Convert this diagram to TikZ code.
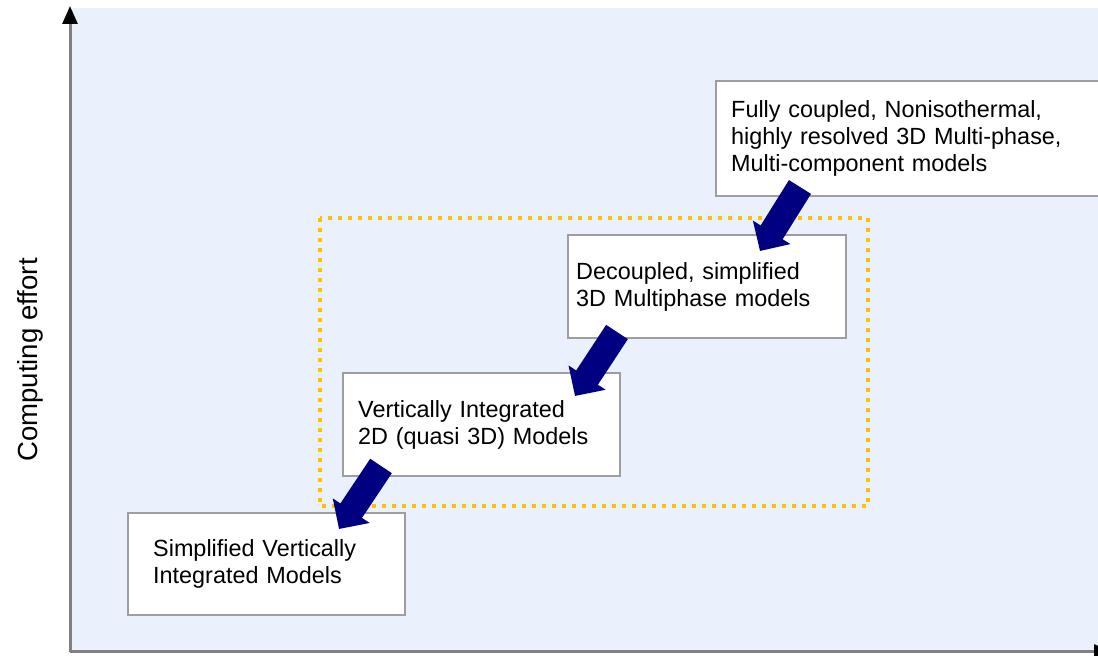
\documentclass[tikz,border=0pt]{standalone}
\usepackage{fontspec}
\setmainfont{Liberation Sans}
\usetikzlibrary{arrows.meta,positioning}
\definecolor{panelblue}{HTML}{EAF1FD}
\definecolor{boxgray}{HTML}{9E9E9E}
\definecolor{axisgray}{HTML}{808080}
\definecolor{dotorange}{HTML}{FFC000}
\definecolor{arrownavy}{HTML}{000080}

\begin{document}
\begin{tikzpicture}[
    x=0.5pt, y=-0.5pt,
    model/.style={rectangle, draw=boxgray, fill=white, line width=1.2pt, anchor=north west, align=left, inner ysep=0pt, font=\fontsize{11.7}{13.5}\selectfont},
    axis/.style={draw=axisgray, line width=1.5pt, -{Triangle[width=7.5pt,length=9pt,color=black]}},
    flow/.style={draw=arrownavy, line width=13pt, -{Triangle[width=21.5pt,length=11pt]}},
    scopebox/.style={draw=dotorange, line width=2pt, dash pattern=on 2pt off 3pt},
]
\clip (0,0) rectangle (1098,656);
\fill[white] (0,0) rectangle (1098,656);
\fill[panelblue] (72,8) rectangle (1098,652);

% axes
\coordinate (origin) at (70,652);
\coordinate (ytop) at (70,6);
\coordinate (xend) at (1112,652);
\draw[axis] (origin) -- (ytop);
\draw[axis] (origin) -- (xend);
\node[rotate=90, anchor=base, inner sep=0pt, font=\fontsize{13.8}{16}\selectfont] (ylabel) at (38,360) {Computing effort};

% dotted frame
\draw[scopebox] (320,218) rectangle (868,506);

% model boxes
\node[model, minimum width=200pt, minimum height=57.5pt, inner xsep=7.5pt, text width=185pt] (full) at (715,80)
    {Fully coupled, Nonisothermal,\\highly resolved 3D Multi-phase,\\Multi-component models};
\node[model, minimum width=139pt, minimum height=51.5pt, inner xsep=4pt, text width=131pt] (decoupled) at (567,234)
    {Decoupled, simplified\\3D Multiphase models};
\node[model, minimum width=138.5pt, minimum height=51.5pt, inner xsep=7.5pt, text width=123.5pt] (vertint) at (342,372)
    {Vertically Integrated\\2D (quasi 3D) Models};
\node[model, minimum width=138.5pt, minimum height=51pt, inner xsep=12.5pt, text width=113.5pt] (simple) at (127,512)
    {Simplified Vertically\\Integrated Models};

% block arrows
\coordinate (fulltail) at (800,187);
\coordinate (decotip) at (760,251);
\coordinate (decotail) at (617,332);
\coordinate (verttip) at (575,396);
\coordinate (verttail) at (381,466);
\coordinate (simpletip) at (339,529);
\draw[flow] (fulltail) -- (decotip);
\draw[flow] (decotail) -- (verttip);
\draw[flow] (verttail) -- (simpletip);
\end{tikzpicture}
\end{document}
